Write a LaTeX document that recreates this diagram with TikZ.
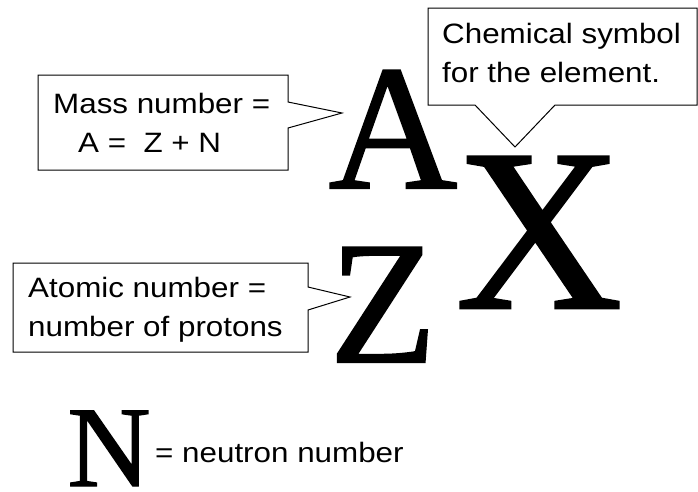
\documentclass[tikz,border=0pt]{standalone}
\usepackage{fontspec}
\usepackage{tikz}
\usetikzlibrary{positioning, calc}
\newfontfamily\boxfont[FakeStretch=1.12]{Liberation Sans}
\newfontfamily\symfont[FakeBold=1.2]{Liberation Serif}

\tikzset{
    bigsym/.style={inner sep=0pt, anchor=base, font={\symfont\fontsize{#1}{#1}\selectfont}},
    boxtext/.style={inner sep=0pt, anchor=base west, font={\boxfont\fontsize{28}{34}\selectfont}},
    callout/.style={line width=1pt, line join=miter}
}

\begin{document}
\begin{tikzpicture}[x=1pt, y=-1pt]
        \useasboundingbox (0,0) rectangle (698,491);

        % Nuclide symbols
        \node[bigsym=178] (A) at (393,188) {A};
        \node[bigsym=231] (X) at (539,308) {X};
        \node[bigsym=175] (Z) at (383,362) {Z};
        \node[bigsym=115] (N) at (109,486) {N};

        % Mass number box
        \node[boxtext] (mass1) at (53,113) {Mass number =};
        \node[boxtext] (mass2) at (78,152) {A =\ \ Z + N};
        \coordinate (tipA) at (342,113);
        \draw[callout] (38,75) -- (288,75) -- (288,102) -- (tipA) -- (288,128)
            -- (288,170) -- (38,170) -- cycle;

        % Chemical symbol box
        \node[boxtext] (chem1) at (442,43) {Chemical symbol};
        \node[boxtext] (chem2) at (442,82) {for the element.};
        \coordinate (tipX) at (515,147);
        \draw[callout] (428,8) -- (697,8) -- (697,105) -- (555,105) -- (tipX)
            -- (475,105) -- (428,105) -- cycle;

        % Atomic number box
        \node[boxtext] (atom1) at (28,297) {Atomic number =};
        \node[boxtext] (atom2) at (28,336) {number of protons};
        \coordinate (tipZ) at (350,297);
        \draw[callout] (13,263) -- (308,263) -- (308,287) -- (tipZ) -- (308,310)
            -- (308,352) -- (13,352) -- cycle;

        % Neutron number
        \node[boxtext] (neut) at (155,462) {= neutron number};
    \end{tikzpicture}
\end{document}
